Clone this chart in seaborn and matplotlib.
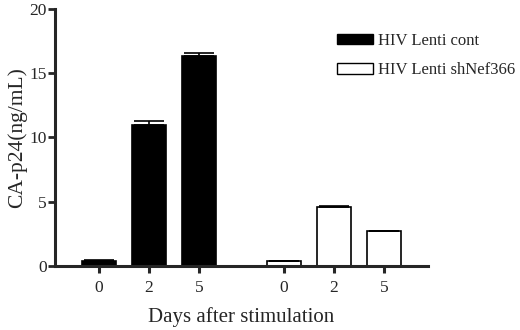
import pandas as pd
import numpy as np
import matplotlib.pyplot as plt
import seaborn as sns
from matplotlib.patches import Patch

# Data
days = ["0", "2", "5"]
groups = ["HIV Lenti cont", "HIV Lenti shNef366"]
cont_vals = [0.35, 11.0, 16.3]
cont_err = [0.1, 0.25, 0.25]
sh_vals = [0.35, 4.6, 2.7]
sh_err = [0.05, 0.06, 0.03]

# bar positions: two clusters of three, with a gap between
pos = [0, 1, 2, 3.7, 4.7, 5.7]

df = pd.DataFrame({
    "pos": pos,
    "day": days + days,
    "group": [groups[0]] * 3 + [groups[1]] * 3,
    "value": cont_vals + sh_vals,
    "err": cont_err + sh_err,
})

sns.set_style("ticks")
plt.rcParams['font.family'] = ['Liberation Serif', 'DejaVu Serif']

fig = plt.figure(figsize=(5.2, 3.3), dpi=100)
ax = fig.add_axes([0.106, 0.194, 0.717, 0.779])

sns.barplot(data=df, x="pos", y="value", hue="group", native_scale=True,
            dodge=False, width=0.68, palette=["black", "white"],
            edgecolor="black", linewidth=1.2, legend=False, ax=ax)

# upward-only error bars
ax.errorbar(df["pos"], df["value"], yerr=[np.zeros(len(df)), df["err"]],
            fmt="none", ecolor="black", elinewidth=1.2, capsize=11, capthick=1.2)

ax.set_xlim(-0.88, 6.58)
ax.set_ylim(0, 20)
ax.set_yticks([0, 5, 10, 15, 20])
ax.set_xticks(pos)
ax.set_xticklabels(days + days)
ax.set_xlabel("Days after stimulation", fontsize=15, labelpad=8)
ax.set_ylabel("CA-p24(ng/mL)", fontsize=15.5, labelpad=2)

for side in ["top", "right"]:
    ax.spines[side].set_visible(False)
for side in ["left", "bottom"]:
    ax.spines[side].set_linewidth(2.2)
ax.tick_params(axis="y", length=5, width=2, pad=1, labelsize=12.5)
ax.tick_params(axis="x", length=5, width=2.2, pad=5, labelsize=12.5)

handles = [Patch(facecolor="black", edgecolor="black", label=groups[0]),
           Patch(facecolor="white", edgecolor="black", label=groups[1])]
fig.legend(handles=handles, loc="upper left", bbox_to_anchor=(0.635, 0.92),
           frameon=False, fontsize=12, handlelength=2.15, handleheight=0.6,
           handletextpad=0.3, labelspacing=0.8, borderaxespad=0)

fig.savefig("out.png", dpi=100)
